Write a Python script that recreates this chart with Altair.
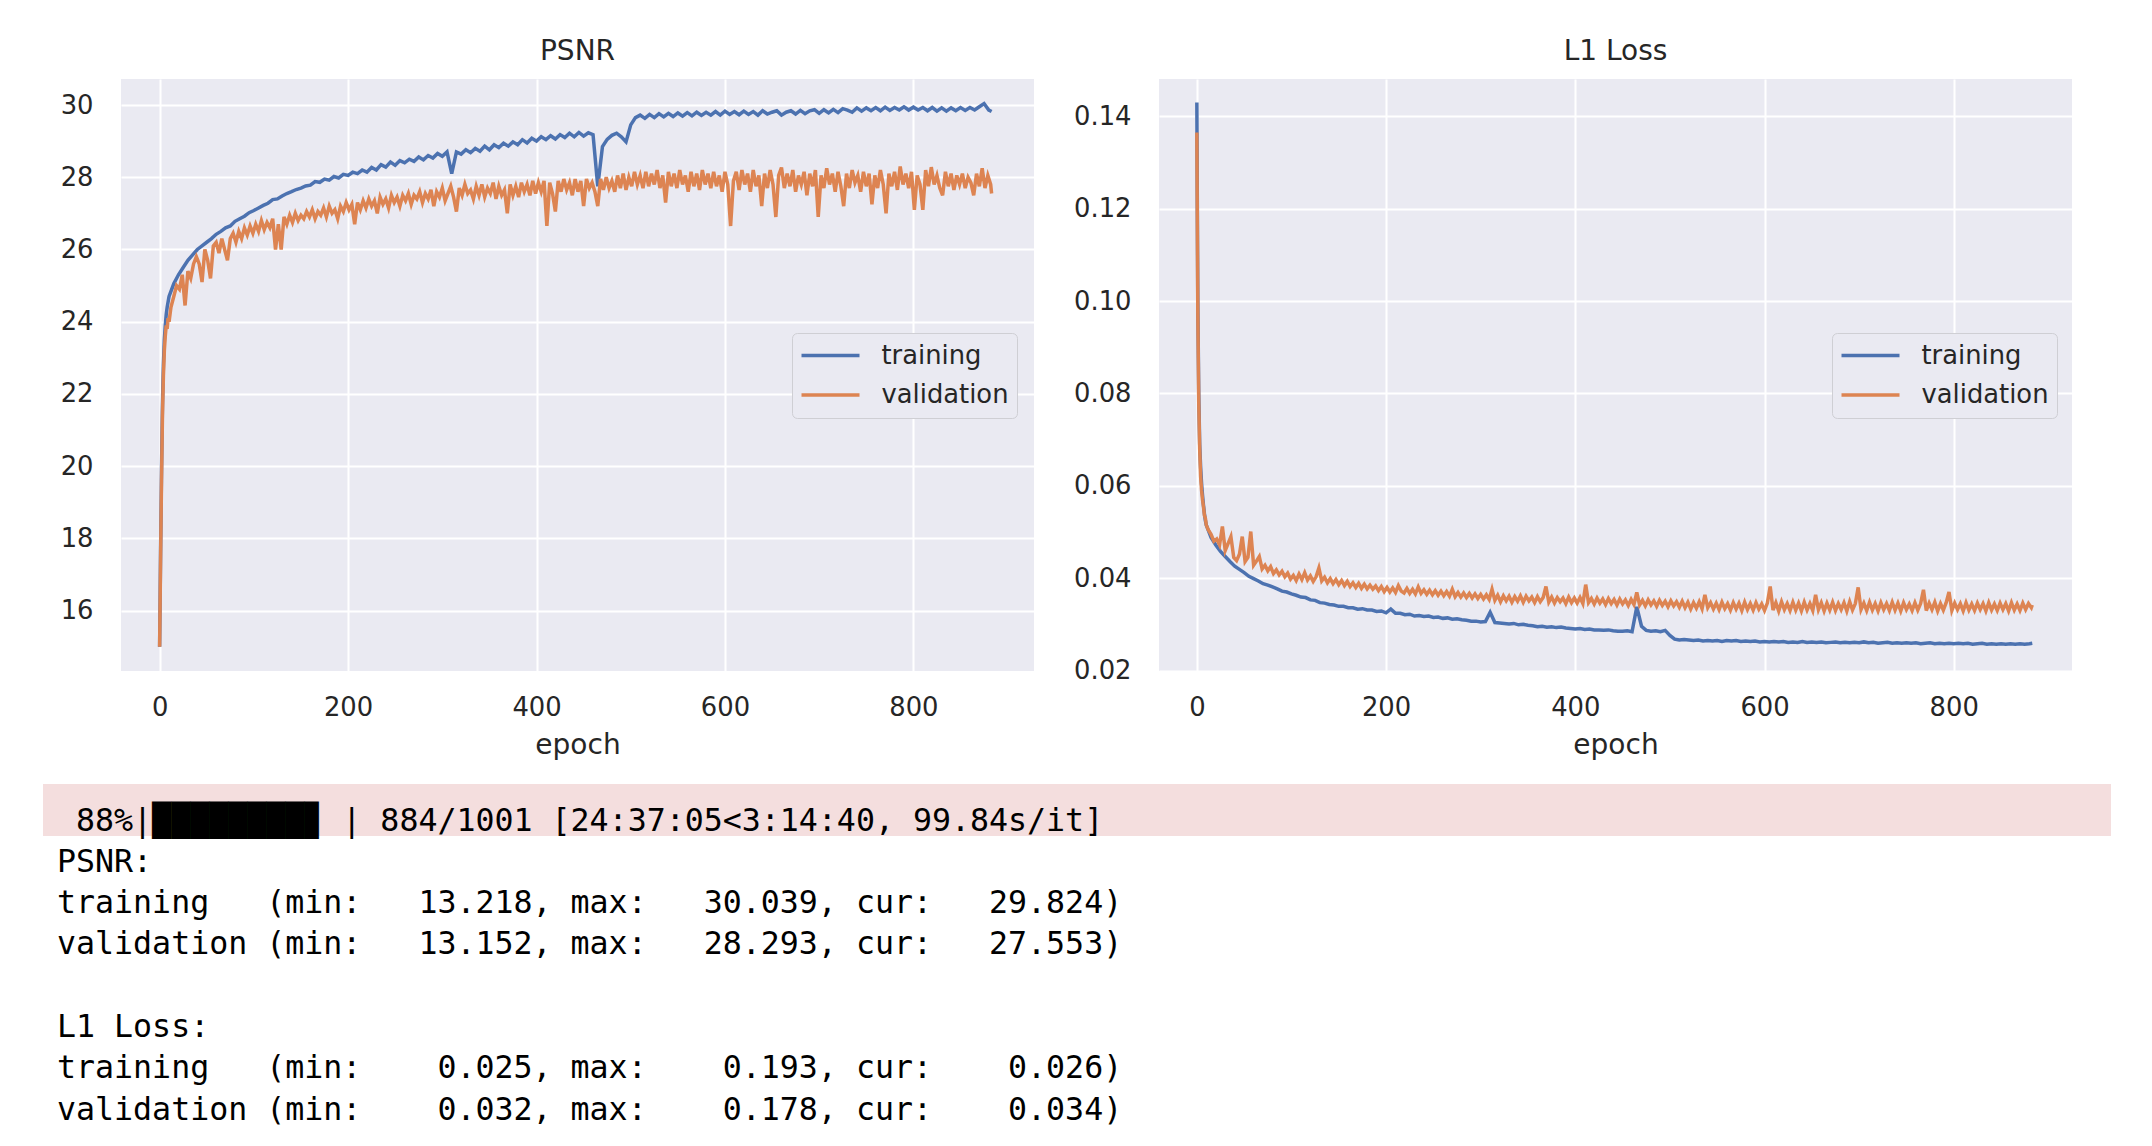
import altair as alt
import pandas as pd

# ---------------- data ----------------
# training curves are read every 5 epochs, validation curves (noisier) every 3 epochs
EPOCHS_TRAIN = [0, 1, 2, 3, 4, 5, 6, 7, 8, 9, 10] + list(range(15, 881, 5)) + [883]
EPOCHS_VAL = [0, 1, 2, 3, 4, 5, 6, 7, 8, 9, 10] + list(range(12, 883, 3)) + [883]
SERIES = ["training", "validation"]
COLORS = ["#4C72B0", "#DD8452"]

PSNR_TRAIN = [
    15.0, 17.6, 19.9, 21.7, 22.8, 23.5, 23.9, 24.2, 24.4, 24.55,
    24.7, 25.05, 25.3, 25.5, 25.7, 25.85, 26.0, 26.1, 26.2, 26.3,
    26.42, 26.5, 26.6, 26.65, 26.78, 26.85, 26.92, 27.02, 27.08, 27.15,
    27.22, 27.28, 27.38, 27.4, 27.48, 27.55, 27.6, 27.66, 27.7, 27.76,
    27.78, 27.88, 27.86, 27.95, 27.92, 28.02, 27.98, 28.08, 28.05, 28.14,
    28.1, 28.2, 28.14, 28.27, 28.2, 28.35, 28.28, 28.42, 28.33, 28.46,
    28.4, 28.5, 28.44, 28.56, 28.48, 28.6, 28.53, 28.66, 28.58, 28.7,
    28.1, 28.7, 28.64, 28.76, 28.68, 28.8, 28.72, 28.86, 28.76, 28.9,
    28.82, 28.94, 28.86, 28.98, 28.9, 29.04, 28.95, 29.08, 29.0, 29.12,
    29.04, 29.15, 29.06, 29.18, 29.1, 29.22, 29.12, 29.24, 29.14, 29.23,
    29.18, 27.75, 28.85, 29.05, 29.16, 29.22, 29.12, 28.98, 29.45, 29.65,
    29.72, 29.63, 29.74, 29.65, 29.76, 29.67, 29.77, 29.68, 29.78, 29.69,
    29.79, 29.7, 29.8, 29.71, 29.8, 29.72, 29.82, 29.72, 29.83, 29.74,
    29.82, 29.73, 29.83, 29.74, 29.82, 29.72, 29.84, 29.75, 29.8, 29.84,
    29.72, 29.8, 29.84, 29.75, 29.85, 29.76, 29.84, 29.87, 29.77, 29.87,
    29.78, 29.88, 29.79, 29.9, 29.86, 29.8, 29.92, 29.83, 29.92, 29.84,
    29.93, 29.84, 29.94, 29.85, 29.93, 29.86, 29.95, 29.86, 29.94, 29.86,
    29.93, 29.84, 29.93, 29.83, 29.92, 29.83, 29.92, 29.84, 29.93, 29.85,
    29.93, 29.86, 29.95, 30.04, 29.86, 29.82,
]

PSNR_VAL = [
    15.0, 17.4, 19.6, 21.4, 22.5, 23.2, 23.6, 23.9, 23.8, 24.1,
    24.0, 24.4, 24.7, 25.0, 24.9, 25.3, 24.45, 25.4, 25.2, 25.6,
    25.8, 25.6, 25.1, 26.0, 25.7, 25.2, 26.1, 26.2, 25.9, 26.3,
    26.0, 25.7, 26.3, 26.45, 26.2, 26.5, 26.3, 26.6, 26.4, 26.65,
    26.45, 26.7, 26.5, 26.8, 26.55, 26.75, 26.6, 26.85, 26.0, 26.7,
    26.0, 26.9, 26.7, 26.95, 26.75, 27.0, 26.8, 26.95, 26.85, 27.05,
    26.9, 27.1, 26.85, 27.05, 26.95, 27.15, 26.9, 27.2, 27.0, 27.1,
    26.85, 27.2, 27.05, 27.3, 27.1, 27.25, 26.7, 27.3, 27.1, 27.35,
    27.15, 27.4, 27.2, 27.35, 27.0, 27.45, 27.25, 27.4, 27.15, 27.5,
    27.3, 27.45, 27.2, 27.5, 27.35, 27.55, 27.25, 27.5, 27.4, 27.6,
    27.3, 27.55, 27.4, 27.65, 27.2, 27.6, 27.45, 27.7, 27.35, 27.55,
    27.75, 27.45, 27.05, 27.7, 27.5, 27.8, 27.55, 27.65, 27.4, 27.75,
    27.5, 27.8, 27.45, 27.7, 27.55, 27.85, 27.4, 27.75, 27.5, 27.65,
    27.0, 27.8, 27.5, 27.75, 27.45, 27.85, 27.6, 27.8, 27.5, 27.9,
    27.55, 27.85, 27.6, 27.9, 26.65, 27.85, 27.55, 27.05, 27.9, 27.6,
    27.95, 27.65, 27.85, 27.5, 27.95, 27.6, 27.9, 27.2, 27.95, 27.7,
    27.85, 27.6, 27.2, 27.95, 27.65, 28.0, 27.7, 27.9, 27.6, 28.05,
    27.7, 28.1, 27.65, 28.0, 27.75, 28.15, 27.8, 28.05, 27.7, 28.15,
    27.75, 28.1, 27.8, 28.2, 27.7, 28.05, 27.3, 28.15, 27.75, 28.1,
    27.7, 28.2, 27.8, 28.05, 27.6, 28.15, 27.75, 28.1, 27.65, 28.2,
    27.8, 28.1, 27.7, 28.15, 27.75, 28.05, 27.6, 28.15, 27.8, 26.65,
    27.9, 28.15, 27.65, 28.2, 27.8, 28.1, 27.6, 28.2, 27.75, 28.05,
    27.2, 28.1, 27.7, 28.2, 27.8, 26.9, 28.05, 28.27, 27.7, 28.1,
    27.75, 28.2, 27.6, 28.05, 27.8, 28.15, 27.5, 28.1, 27.75, 28.2,
    26.9, 28.05, 27.7, 28.25, 27.8, 28.1, 27.6, 28.15, 27.75, 27.2,
    28.1, 27.7, 28.2, 27.85, 28.05, 27.6, 28.15, 27.75, 28.1, 27.25,
    28.05, 27.7, 28.2, 27.8, 27.0, 28.1, 27.75, 28.15, 27.65, 28.3,
    27.8, 28.1, 27.7, 28.15, 27.1, 28.05, 27.8, 27.1, 28.2, 27.75,
    28.28, 27.8, 28.05, 27.7, 27.5, 28.15, 27.75, 28.1, 27.65, 28.05,
    27.8, 28.1, 27.7, 28.0, 27.85, 27.5, 28.1, 27.75, 28.25, 27.7,
    28.05, 27.8, 27.55,
]

L1_TRAIN = [
    0.143, 0.100, 0.080, 0.069, 0.064, 0.0605, 0.058, 0.0558, 0.054, 0.0525,
    0.0515, 0.0488, 0.0472, 0.0458, 0.0447, 0.0436, 0.0426, 0.0419, 0.0412, 0.0404,
    0.0399, 0.0394, 0.0388, 0.0385, 0.0381, 0.0377, 0.0372, 0.037, 0.0366, 0.0363,
    0.0359, 0.0358, 0.0353, 0.0352, 0.0347, 0.0346, 0.0343, 0.0342, 0.0339, 0.0339,
    0.0336, 0.0336, 0.0333, 0.0334, 0.0331, 0.0331, 0.0328, 0.0329, 0.0325, 0.0333,
    0.0324, 0.0324, 0.0321, 0.0322, 0.0318, 0.0319, 0.0317, 0.0318, 0.0315, 0.0316,
    0.0313, 0.0314, 0.0311, 0.0312, 0.031, 0.0309, 0.0307, 0.0307, 0.0305, 0.0306,
    0.0326, 0.0304, 0.0303, 0.0302, 0.0301, 0.0302, 0.0299, 0.03, 0.0298, 0.0297,
    0.0295, 0.0296, 0.0294, 0.0295, 0.0293, 0.0294, 0.0292, 0.0291, 0.029, 0.0291,
    0.0289, 0.029, 0.0288, 0.0288, 0.0287, 0.0288, 0.0286, 0.0285, 0.0285, 0.0286,
    0.0284, 0.0338, 0.0296, 0.0287, 0.0285, 0.0286, 0.0284, 0.0287, 0.0276, 0.0268,
    0.0266, 0.0267, 0.0266, 0.0265, 0.0266, 0.0264, 0.0265, 0.0264, 0.0265, 0.0263,
    0.0265, 0.0264, 0.0265, 0.0263, 0.0264, 0.0263, 0.0264, 0.0262, 0.0263, 0.0262,
    0.0263, 0.0262, 0.0263, 0.0261, 0.0262, 0.0261, 0.0263, 0.0261, 0.0262, 0.0261,
    0.0262, 0.026, 0.0261, 0.0262, 0.026, 0.0261, 0.026, 0.0261, 0.026, 0.0262,
    0.026, 0.0261, 0.0259, 0.026, 0.0261, 0.0259, 0.026, 0.0259, 0.026, 0.0259,
    0.026, 0.0258, 0.0259, 0.026, 0.0258, 0.0259, 0.0258, 0.0259, 0.0258, 0.0259,
    0.0258, 0.0259, 0.0257, 0.0258, 0.0259, 0.0257, 0.0258, 0.0257, 0.0258, 0.0257,
    0.0258, 0.0257, 0.0258, 0.0257, 0.0258, 0.0259,
]

L1_VAL = [
    0.1365, 0.098, 0.078, 0.068, 0.062, 0.059, 0.057, 0.0555, 0.0536, 0.053,
    0.0515, 0.0505, 0.0495, 0.048, 0.0485, 0.0472, 0.0512, 0.046, 0.0475, 0.049,
    0.0445, 0.0438, 0.0452, 0.049, 0.0436, 0.0445, 0.0501, 0.0428, 0.0437, 0.0447,
    0.042, 0.0428, 0.0416, 0.0425, 0.041, 0.0418, 0.0407, 0.0415, 0.0403, 0.0411,
    0.0398, 0.0406, 0.0395, 0.0409, 0.0397, 0.0412, 0.0396, 0.0405, 0.0393, 0.0403,
    0.0422, 0.0394, 0.0402, 0.039, 0.0399, 0.0388, 0.0397, 0.0386, 0.0395, 0.0384,
    0.0393, 0.0382, 0.039, 0.038, 0.0389, 0.0378, 0.0387, 0.0377, 0.0385, 0.0376,
    0.0383, 0.0373, 0.0382, 0.0371, 0.038, 0.037, 0.0379, 0.0369, 0.0384, 0.0372,
    0.0368, 0.0378, 0.0367, 0.0376, 0.0366, 0.0381, 0.0367, 0.0375, 0.0365, 0.0374,
    0.0364, 0.0373, 0.0363, 0.0372, 0.0362, 0.0371, 0.0361, 0.0376, 0.036, 0.0369,
    0.0359, 0.0368, 0.0358, 0.0367, 0.0357, 0.0366, 0.0356, 0.0365, 0.0355, 0.0364,
    0.0354, 0.0376, 0.0352, 0.0363, 0.0349, 0.0362, 0.0351, 0.0361, 0.0348, 0.036,
    0.035, 0.0362, 0.0348, 0.0361, 0.0351, 0.0359, 0.0347, 0.036, 0.0349, 0.0358,
    0.0382, 0.0348, 0.0359, 0.0346, 0.0358, 0.0349, 0.0357, 0.0345, 0.0359, 0.0347,
    0.0357, 0.0346, 0.0358, 0.0345, 0.0386, 0.0347, 0.0356, 0.0344, 0.0357, 0.0346,
    0.0355, 0.0343, 0.0356, 0.0345, 0.0354, 0.0342, 0.0355, 0.0344, 0.0353, 0.0341,
    0.0354, 0.0343, 0.0369, 0.0342, 0.0352, 0.034, 0.0353, 0.0342, 0.0351, 0.0339,
    0.0352, 0.0341, 0.035, 0.0338, 0.0351, 0.034, 0.0349, 0.0337, 0.035, 0.0336,
    0.0348, 0.0333, 0.0347, 0.0335, 0.0349, 0.0334, 0.0364, 0.0336, 0.0347, 0.0333,
    0.0346, 0.0332, 0.0348, 0.0334, 0.0345, 0.0331, 0.0347, 0.0333, 0.0346, 0.033,
    0.0348, 0.0332, 0.0345, 0.0331, 0.0347, 0.0333, 0.0344, 0.033, 0.0346, 0.0382,
    0.0331, 0.0347, 0.0329, 0.0349, 0.0332, 0.0345, 0.033, 0.0348, 0.0331, 0.0346,
    0.0329, 0.0348, 0.0331, 0.0345, 0.033, 0.0364, 0.0332, 0.0347, 0.0329, 0.0346,
    0.0331, 0.0348, 0.033, 0.0345, 0.0332, 0.0347, 0.0329, 0.0349, 0.0331, 0.0345,
    0.038, 0.0332, 0.0346, 0.033, 0.0348, 0.0331, 0.0345, 0.0329, 0.0347, 0.0332,
    0.0345, 0.033, 0.0348, 0.0331, 0.0346, 0.0329, 0.0347, 0.0332, 0.0344, 0.033,
    0.0347, 0.0331, 0.0345, 0.0375, 0.033, 0.0346, 0.0332, 0.0348, 0.0329, 0.0345,
    0.0331, 0.0347, 0.037, 0.033, 0.0346, 0.0332, 0.0345, 0.0329, 0.0347, 0.0331,
    0.0344, 0.033, 0.0346, 0.0332, 0.0345, 0.0329, 0.0347, 0.0331, 0.0344, 0.033,
    0.0346, 0.0332, 0.0345, 0.0329, 0.0347, 0.0331, 0.0344, 0.033, 0.0346, 0.0332,
    0.0345, 0.0336, 0.0342,
]

X_TICKS = [0, 200, 400, 600, 800]
PSNR_TICKS = [16, 18, 20, 22, 24, 26, 28, 30]
L1_TICKS = [0.02, 0.04, 0.06, 0.08, 0.10, 0.12, 0.14]

# log lines under the plots; row 4 of the output is a blank line
LOG_ROWS = [0, 1, 2, 3, 5, 6, 7]
LOG_LINES = [
    " 88%|████████▊ | 884/1001 [24:37:05<3:14:40, 99.84s/it]",
    "PSNR:",
    "training   (min:   13.218, max:   30.039, cur:   29.824)",
    "validation (min:   13.152, max:   28.293, cur:   27.553)",
    "L1 Loss:",
    "training   (min:    0.025, max:    0.193, cur:    0.026)",
    "validation (min:    0.032, max:    0.178, cur:    0.034)",
]

# ---------------- styling constants ----------------
TXT = "#262626"
SANS = "DejaVu Sans"
MONO = "DejaVu Sans Mono"
PW, PH = 913, 592


def long_frame(train, val):
    rows = []
    for e, v in zip(EPOCHS_TRAIN, train):
        rows.append({"epoch": e, "value": v, "series": SERIES[0]})
    for e, v in zip(EPOCHS_VAL, val):
        rows.append({"epoch": e, "value": v, "series": SERIES[1]})
    return pd.DataFrame(rows)


def panel(df, title, xdom, ydom, yticks, yfmt, legend_x):
    return (
        alt.Chart(df)
        .mark_line(strokeWidth=3.5, clip=True)
        .encode(
            x=alt.X(
                "epoch:Q",
                scale=alt.Scale(domain=xdom, nice=False, zero=False),
                axis=alt.Axis(
                    values=X_TICKS, title="epoch", labelBaseline="alphabetic",
                    labelPadding=44.5, titleY=82.5, titleBaseline="alphabetic",
                ),
            ),
            y=alt.Y(
                "value:Q",
                scale=alt.Scale(domain=ydom, nice=False, zero=False),
                axis=alt.Axis(values=yticks, format=yfmt, title=None, labelPadding=28),
            ),
            color=alt.Color(
                "series:N",
                scale=alt.Scale(domain=SERIES, range=COLORS),
                legend=alt.Legend(
                    title=None, orient="none", legendX=legend_x, legendY=254,
                    direction="vertical", symbolType="stroke", symbolSize=3364,
                    symbolStrokeWidth=3.5, labelFont=SANS, labelFontSize=25.8,
                    labelColor=TXT, labelOffset=20, rowPadding=9.5, clipHeight=30,
                    padding=7.5, cornerRadius=5, fillColor="#EAEAF2",
                    strokeColor="#cfcfd4",
                ),
            ),
        )
        .properties(
            width=PW,
            height=PH,
            title=alt.TitleParams(
                title, font=SANS, fontSize=28, fontWeight="normal", color=TXT,
                anchor="middle", frame="group", baseline="alphabetic", offset=-9,
            ),
            view=alt.ViewBackground(fill="#EAEAF2", strokeWidth=0),
        )
    )


psnr = panel(long_frame(PSNR_TRAIN, PSNR_VAL), "PSNR", [-41, 928], [14.33, 30.72],
             PSNR_TICKS, "d", 671)
l1 = panel(long_frame(L1_TRAIN, L1_VAL), "L1 Loss", [-40, 925], [0.0199, 0.1481],
           L1_TICKS, ".2f", 673)

# ---------------- log text under the plots ----------------
# spaces become no-break spaces so runs of them are kept; a zero-width space in
# front keeps the leading blank of the progress line from being trimmed away
log_df = pd.DataFrame({
    "row": LOG_ROWS,
    "line": ["\u200b" + s.replace(" ", "\u00a0") for s in LOG_LINES],
})
bar_df = pd.DataFrame({"row": [0]})

pink = alt.Chart(bar_df).mark_rect(color="#f4dede").encode(
    x=alt.value(-78), x2=alt.value(1990), y=alt.value(0), y2=alt.value(52)
)
log_text = alt.Chart(log_df).mark_text(
    font=MONO, fontSize=31.6, align="left", baseline="alphabetic", color="#000000"
).encode(
    x=alt.value(-64),
    y=alt.Y("row:Q", scale=alt.Scale(domain=[0, 7], range=[46.5, 335.6]), axis=None),
    text="line:N",
)
# the panel is kept as narrow as a plot so that it does not widen the first column;
# its bar and text run on past that width
log_panel = alt.layer(pink, log_text).properties(width=PW, height=345)

chart = (
    alt.concat(psnr, l1, log_panel, columns=2, spacing={"row": 113, "column": 125},
               bounds="flush", align="none")
    .resolve_scale(x="independent", y="independent", color="independent")
    .resolve_legend(color="independent")
    .properties(padding={"left": 35, "top": 30, "right": 5, "bottom": 5},
                background="white")
    .configure_view(strokeWidth=0)
    .configure_axis(
        grid=True, gridColor="white", gridWidth=2, domain=False, ticks=False,
        tickSize=0, labelFont=SANS, labelFontSize=25.8, labelColor=TXT,
        titleFont=SANS, titleFontSize=28, titleFontWeight="normal", titleColor=TXT,
    )
)

chart.save("out.html", embed_options={"renderer": "svg", "actions": False})
